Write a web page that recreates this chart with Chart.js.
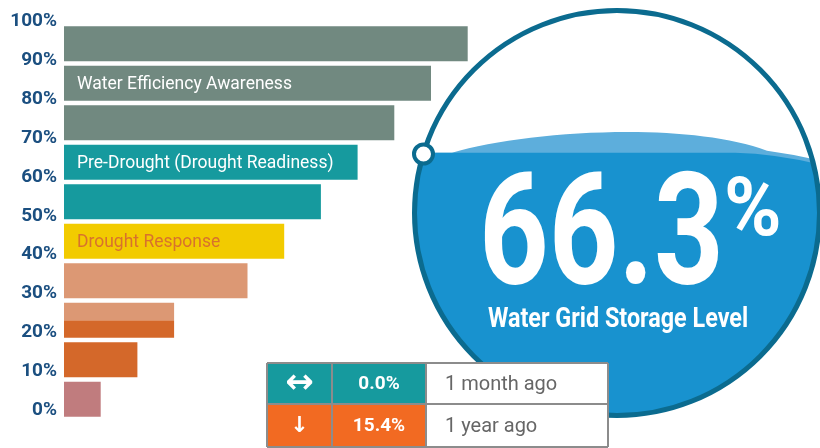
<!DOCTYPE html>
<html>
<head>
<meta charset="utf-8">
<script src="https://cdn.jsdelivr.net/npm/chart.js@4.4.1/dist/chart.umd.min.js"></script>
<style>
    html, body { margin: 0; padding: 0; background: #fff; }
    #wrap { width: 820px; height: 448px; position: relative; }
</style>
</head>
<body>
<div id="wrap"><canvas id="js-chart-storage"></canvas></div>
<script>
// stage bars, top to bottom
const stageNames = ["", "Water Efficiency Awareness", "", "Pre-Drought (Drought Readiness)", "", "Drought Response", "", "", "", ""];
const barValues = [11, 10, 9, 8, 7, 6, 5, 3, 2, 1];
const splitValues = [null, null, null, null, null, null, null, 3, null, null];
const levelTicks = [0, 10, 20, 30, 40, 50, 60, 70, 80, 90, 100];

// gauge + change table
const storageLevel = 66.3;
const storageLabel = "Water Grid Storage Level";
const changeArrows = ["\u2194", "\u2193"];
const changeValues = ["0.0%", "15.4%"];
const changePeriods = ["1 month ago", "1 year ago"];

const barColors = ["#718980", "#718980", "#718980", "#169a9e", "#169a9e", "#f2cb00", "#dc9874", "#dc9874", "#d4682a", "#c07c7e"];
const stageTextColors = ["#fff", "#fff", "#fff", "#fff", "#fff", "#d8722c", "#fff", "#fff", "#fff", "#fff"];

const stageLabels = {
    id: "stageLabels",
    afterDatasetsDraw(chart) {
        const { ctx, chartArea } = chart;
        const meta = chart.getDatasetMeta(0);
        ctx.save();
        ctx.font = "17.5px Roboto";
        ctx.textBaseline = "middle";
        meta.data.forEach((bar, i) => {
            if (!stageNames[i]) return;
            ctx.fillStyle = stageTextColors[i];
            ctx.fillText(stageNames[i], chartArea.left + 13, bar.y + 1);
        });
        ctx.restore();
    },
};

const gauge = {
    id: "gauge",
    afterDraw(chart) {
        const ctx = chart.ctx;
        const cx = 617, cy = 213, r = 203;
        const waterY = cy + r - (storageLevel / 100) * 2 * r; // ~147

        ctx.save();
        ctx.beginPath();
        ctx.arc(cx, cy, r, 0, Math.PI * 2);
        ctx.fillStyle = "#fff";
        ctx.fill();
        ctx.clip();
        // light wave crest
        ctx.beginPath();
        ctx.moveTo(cx - r - 5, waterY + 6);
        ctx.lineTo(cx - 165, waterY + 6);
        ctx.bezierCurveTo(cx - 90, waterY - 16, cx + 70, waterY - 26, cx + 150, waterY + 4);
        ctx.quadraticCurveTo(cx + 180, waterY + 8, cx + r + 5, waterY + 15);
        ctx.lineTo(cx + r + 5, cy + r + 5);
        ctx.lineTo(cx - r - 5, cy + r + 5);
        ctx.closePath();
        ctx.fillStyle = "#5daedc";
        ctx.fill();
        // main water body
        ctx.beginPath();
        ctx.moveTo(cx - r - 5, waterY + 6);
        ctx.lineTo(cx + 118, waterY + 6);
        ctx.quadraticCurveTo(cx + 160, waterY + 7, cx + r + 5, waterY + 19);
        ctx.lineTo(cx + r + 5, cy + r + 5);
        ctx.lineTo(cx - r - 5, cy + r + 5);
        ctx.closePath();
        ctx.fillStyle = "#1892cf";
        ctx.fill();
        ctx.restore();

        ctx.save();
        ctx.beginPath();
        ctx.arc(cx, cy, r - 0.5, 0, Math.PI * 2);
        ctx.lineWidth = 5;
        ctx.strokeStyle = "#0b6b8f";
        ctx.stroke();

        // level marker on the ring
        ctx.beginPath();
        ctx.arc(423.5, 154, 9.5, 0, Math.PI * 2);
        ctx.fillStyle = "#fff";
        ctx.fill();
        ctx.lineWidth = 4;
        ctx.stroke();

        // big value
        ctx.fillStyle = "#fff";
        ctx.textBaseline = "alphabetic";
        ctx.textAlign = "left";
        ctx.save();
        ctx.translate(479, 283);
        ctx.scale(0.78, 1);
        ctx.font = "bold 156px Roboto";
        ctx.fillText(storageLevel.toFixed(1), 0, 0);
        ctx.restore();
        ctx.save();
        ctx.translate(724, 235);
        ctx.scale(0.95, 1);
        ctx.font = "bold 82px Roboto";
        ctx.fillText("%", 0, 0);
        ctx.restore();
        ctx.save();
        ctx.translate(618, 327);
        ctx.scale(0.865, 1);
        ctx.textAlign = "center";
        ctx.font = "bold 27px Roboto";
        ctx.fillText(storageLabel, 0, 0);
        ctx.restore();
        ctx.restore();

        // change table
        const cols = [267, 332, 426, 608];
        const rows = [363, 404, 447];
        const rowColors = ["#169a9e", "#f26a22"];
        ctx.save();
        for (let i = 0; i < 2; i++) {
            const y0 = rows[i], h = rows[i + 1] - rows[i];
            ctx.fillStyle = rowColors[i];
            ctx.fillRect(cols[0], y0, cols[2] - cols[0], h);
            ctx.fillStyle = "#fff";
            ctx.fillRect(cols[2], y0, cols[3] - cols[2], h);
            const my = y0 + h / 2;
            ctx.textBaseline = "middle";
            ctx.textAlign = "center";
            ctx.fillStyle = "#fff";
            ctx.font = (i === 0 ? "bold 34px" : "bold 22px") + " 'DejaVu Sans'";
            ctx.fillText(changeArrows[i], (cols[0] + cols[1]) / 2, my + 1);
            ctx.font = "bold 19px Roboto";
            ctx.fillText(changeValues[i], (cols[1] + cols[2]) / 2, my + 1);
            ctx.textAlign = "left";
            ctx.fillStyle = "#666";
            ctx.font = "20px Roboto";
            ctx.fillText(changePeriods[i], cols[2] + 19, my + 1);
        }
        ctx.strokeStyle = "#8c8c8c";
        ctx.lineWidth = 2;
        ctx.beginPath();
        rows.forEach((y) => { ctx.moveTo(cols[0], y); ctx.lineTo(cols[3], y); });
        cols.forEach((x) => { ctx.moveTo(x, rows[0]); ctx.lineTo(x, rows[2]); });
        ctx.stroke();
        ctx.restore();
    },
};

new Chart(document.getElementById("js-chart-storage"), {
    type: "bar",
    data: {
        labels: barValues.map((v, i) => stageNames[i] || "Stage " + (i + 1)),
        datasets: [
            { data: barValues, backgroundColor: barColors, borderWidth: 0 },
            { data: splitValues, backgroundColor: "#d4682a", borderWidth: 0 },
        ],
    },
    options: {
        responsive: !0,
        maintainAspectRatio: !1,
        animation: !1,
        indexAxis: "y",
        layout: { padding: { top: 24, bottom: 29, right: 22, left: 0 } },
        datasets: { bar: { categoryPercentage: 0.886, barPercentage: 1, skipNull: !0 } },
        scales: {
            x: { display: !1, min: 0, max: 20 },
            y: { display: !1, offset: !0 },
            y2: {
                type: "linear",
                position: "left",
                offset: !1,
                min: -2.18,
                max: 99.23,
                afterBuildTicks: (axis) => { axis.ticks = levelTicks.map((v) => ({ value: v })); },
                afterFit: (axis) => { axis.width = 64; },
                grid: { display: !1, drawTicks: !1, offset: !1 },
                border: { display: !1 },
                ticks: {
                    padding: 7,
                    color: "#1b4f80",
                    font: { family: "Roboto", size: 19, weight: "bold" },
                    autoSkip: !1,
                    callback: (v) => v + "%",
                },
            },
        },
        plugins: { legend: { display: !1 }, tooltip: { enabled: !1 } },
    },
    plugins: [stageLabels, gauge],
});
</script>
</body>
</html>
